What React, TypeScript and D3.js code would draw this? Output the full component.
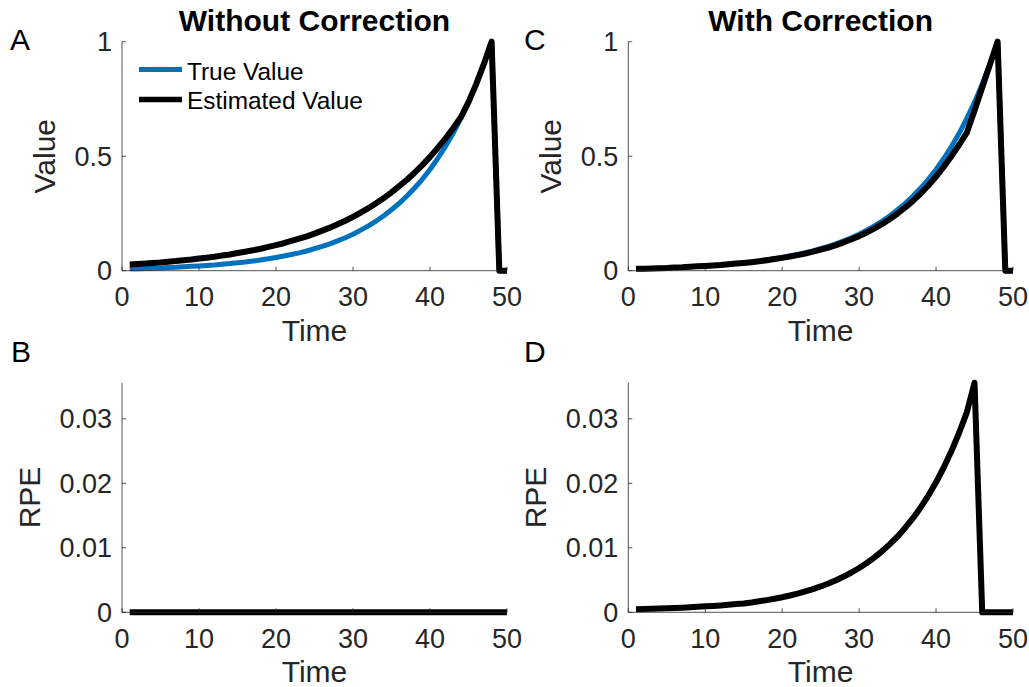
import React from "react";
import * as d3 from "d3";

// ---- Data (t = 1..50) ----
const timeSteps: number[] = Array.from({ length: 50 }, (_, i) => i + 1);

const trueValue: number[] = [
  0.008, 0.009, 0.010, 0.011, 0.012, 0.014, 0.015, 0.017, 0.019, 0.021,
  0.023, 0.025, 0.028, 0.031, 0.035, 0.038, 0.042, 0.047, 0.052, 0.058,
  0.064, 0.071, 0.078, 0.086, 0.096, 0.106, 0.117, 0.130, 0.144, 0.159,
  0.177, 0.196, 0.217, 0.240, 0.266, 0.294, 0.326, 0.361, 0.399, 0.442,
  0.490, 0.542, 0.600, 0.665, 0.736, 0.815, 0.903, 1.000, 0, 0,
];

const estimatedNoCorrection: number[] = [
  0.027, 0.029, 0.031, 0.034, 0.036, 0.039, 0.042, 0.046, 0.049, 0.053,
  0.057, 0.061, 0.066, 0.071, 0.077, 0.083, 0.089, 0.096, 0.104, 0.112,
  0.120, 0.130, 0.140, 0.150, 0.162, 0.175, 0.188, 0.203, 0.218, 0.235,
  0.254, 0.273, 0.295, 0.317, 0.342, 0.369, 0.397, 0.428, 0.461, 0.497,
  0.536, 0.577, 0.622, 0.670, 0.736, 0.815, 0.903, 1.000, 0, 0,
];

const estimatedWithCorrection: number[] = [
  0.008, 0.009, 0.010, 0.011, 0.012, 0.014, 0.015, 0.017, 0.019, 0.021,
  0.023, 0.025, 0.028, 0.031, 0.034, 0.037, 0.041, 0.046, 0.051, 0.056,
  0.062, 0.068, 0.075, 0.083, 0.092, 0.101, 0.112, 0.124, 0.137, 0.151,
  0.167, 0.185, 0.204, 0.226, 0.250, 0.276, 0.305, 0.337, 0.372, 0.411,
  0.454, 0.500, 0.550, 0.603, 0.700, 0.800, 0.900, 1.000, 0, 0,
];

const rpeNoCorrection: number[] = Array.from({ length: 50 }, () => 0);

const rpeWithCorrection: number[] = [
  0.00047, 0.00050, 0.00054, 0.00058, 0.00062, 0.00067, 0.00072, 0.00078, 0.00085, 0.00092,
  0.00099, 0.00107, 0.00117, 0.00128, 0.00137, 0.00152, 0.00170, 0.00189, 0.00210, 0.00234,
  0.00261, 0.00290, 0.00324, 0.00360, 0.00401, 0.00447, 0.00498, 0.00554, 0.00617, 0.00687,
  0.00765, 0.00852, 0.00949, 0.01057, 0.01177, 0.01311, 0.01460, 0.01626, 0.01810, 0.02016,
  0.02245, 0.02500, 0.02784, 0.03100, 0.03560, 0, 0, 0, 0, 0,
];

const xTicks: number[] = [0, 10, 20, 30, 40, 50];
const valueTicks: number[] = [0, 0.5, 1];
const rpeTicks: number[] = [0, 0.01, 0.02, 0.03];
const xDomain: [number, number] = [0, 50];
const valueDomain: [number, number] = [0, 1];
const rpeDomain: [number, number] = [0, 0.0356];

const titles: string[] = ["Without Correction", "With Correction"];
const legendLabels: string[] = ["True Value", "Estimated Value"];

const BLUE = "#0072BD";
const AXIS = "#262626";
const FONT = "'Liberation Sans', Arial, Helvetica, sans-serif";

type Series = { values: number[]; color: string; width: number };

function Panel(props: {
  left: number; right: number; top: number; bottom: number;
  yDomain: [number, number]; yTicks: number[]; yLabel: string; yLabelOffset: number;
  series: Series[]; letter: string; letterX: number; letterY: number;
  title?: string; legend?: boolean;
}) {
  const { left, right, top, bottom, yDomain, yTicks, yLabel, yLabelOffset, series } = props;
  const x = d3.scaleLinear().domain(xDomain).range([left, right]);
  const y = d3.scaleLinear().domain(yDomain).range([bottom, top]);
  const line = d3.line<number>().x((_, i) => x(timeSteps[i])).y((d) => y(d));
  const tickLen = 4;
  return (
    <g>
      {series.map((s, i) => (
        <path key={i} d={line(s.values) || ""} fill="none" stroke={s.color}
          strokeWidth={s.width} strokeLinejoin="round" strokeLinecap="butt" />
      ))}
      {/* axes */}
      <line x1={left} x2={right} y1={bottom} y2={bottom} stroke={AXIS} strokeWidth={0.8} />
      <line x1={left} x2={left} y1={top} y2={bottom} stroke={AXIS} strokeWidth={0.8} />
      {xTicks.map((t) => (
        <g key={"x" + t}>
          <line x1={x(t)} x2={x(t)} y1={bottom} y2={bottom - tickLen} stroke={AXIS} strokeWidth={0.8} />
          <text x={x(t)} y={bottom + 35.5} textAnchor="middle" fontSize={27} fill={AXIS} fontFamily={FONT}>{String(t)}</text>
        </g>
      ))}
      {yTicks.map((t) => (
        <g key={"y" + t}>
          <line x1={left} x2={left + tickLen} y1={y(t)} y2={y(t)} stroke={AXIS} strokeWidth={0.8} />
          <text x={left - 10} y={y(t)} dy="0.35em" textAnchor="end" fontSize={27} fill={AXIS} fontFamily={FONT}>{String(t)}</text>
        </g>
      ))}
      <text x={(left + right) / 2} y={bottom + 70} textAnchor="middle" fontSize={30} fill={AXIS} fontFamily={FONT}>Time</text>
      <text transform={`translate(${left - yLabelOffset},${(top + bottom) / 2}) rotate(-90)`} textAnchor="middle"
        fontSize={30} fill={AXIS} fontFamily={FONT}>{yLabel}</text>
      {props.title && (
        <text x={(left + right) / 2} y={31} textAnchor="middle" fontSize={30} fontWeight="bold" fill="#000" fontFamily={FONT}>{props.title}</text>
      )}
      <text x={props.letterX} y={props.letterY} fontSize={30} fill="#000" fontFamily={FONT}>{props.letter}</text>
      {props.legend && (
        <g>
          <line x1={left + 17} x2={left + 60} y1={69.5} y2={69.5} stroke={BLUE} strokeWidth={5} />
          <text x={left + 65} y={79.5} fontSize={24.4} fill="#000" fontFamily={FONT}>{legendLabels[0]}</text>
          <line x1={left + 17} x2={left + 60} y1={99.5} y2={99.5} stroke="#000" strokeWidth={5.5} />
          <text x={left + 65} y={108.5} fontSize={24.4} fill="#000" fontFamily={FONT}>{legendLabels[1]}</text>
        </g>
      )}
    </g>
  );
}

export default function App() {
  const L1 = 122, R1 = 507, L2 = 628.3, R2 = 1013;
  const T1 = 41.7, B1 = 270.7, T2 = 382.7, B2 = 612.3;
  return (
    <svg width={1029} height={687} style={{ position: "absolute", left: 0, top: 0, background: "#fff" }}>
      <rect x={0} y={0} width={1029} height={687} fill="#fff" />
      <Panel left={L1} right={R1} top={T1} bottom={B1} yDomain={valueDomain} yTicks={valueTicks}
        yLabel="Value" yLabelOffset={57 + 10.5}
        series={[{ values: trueValue, color: BLUE, width: 5 }, { values: estimatedNoCorrection, color: "#000", width: 6 }]}
        letter="A" letterX={10} letterY={50} title={titles[0]} legend />
      <Panel left={L2} right={R2} top={T1} bottom={B1} yDomain={valueDomain} yTicks={valueTicks}
        yLabel="Value" yLabelOffset={57 + 10.5}
        series={[{ values: trueValue, color: BLUE, width: 5 }, { values: estimatedWithCorrection, color: "#000", width: 6 }]}
        letter="C" letterX={524} letterY={50} title={titles[1]} />
      <Panel left={L1} right={R1} top={T2} bottom={B2} yDomain={rpeDomain} yTicks={rpeTicks}
        yLabel="RPE" yLabelOffset={72 + 10.5}
        series={[{ values: rpeNoCorrection, color: "#000", width: 6 }]}
        letter="B" letterX={11} letterY={362} />
      <Panel left={L2} right={R2} top={T2} bottom={B2} yDomain={rpeDomain} yTicks={rpeTicks}
        yLabel="RPE" yLabelOffset={72 + 10.5}
        series={[{ values: rpeWithCorrection, color: "#000", width: 6 }]}
        letter="D" letterX={524} letterY={362} />
    </svg>
  );
}
